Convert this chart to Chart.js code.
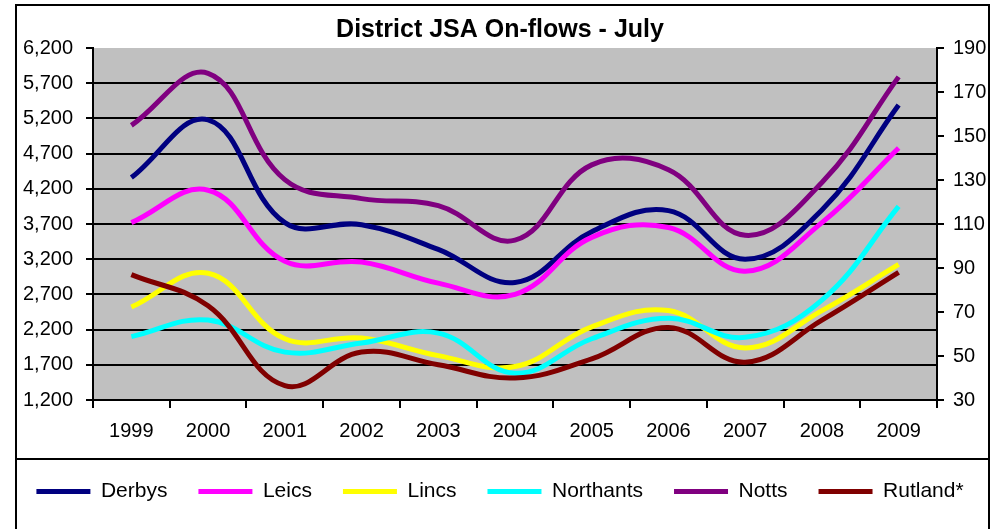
<!DOCTYPE html>
<html>
<head>
<meta charset="utf-8">
<title>District JSA On-flows - July</title>
<script src="https://cdn.jsdelivr.net/npm/chart.js@4.4.1/dist/chart.umd.min.js"></script>
<style>
  body { margin: 0; background: #fff; }
  canvas { display: block; }
</style>
</head>
<body>
<canvas id="chart" width="1000" height="529"></canvas>
<script>
// Data
const years = ["1999", "2000", "2001", "2002", "2003", "2004", "2005", "2006", "2007", "2008", "2009"];
const derbys = [4360, 5180, 3720, 3690, 3340, 2870, 3590, 3890, 3200, 3900, 5390];
const leics = [3720, 4180, 3170, 3160, 2860, 2700, 3510, 3650, 3030, 3720, 4780];
const lincs = [2520, 3000, 2070, 2080, 1830, 1675, 2240, 2470, 1940, 2470, 3125];
const northants = [2100, 2335, 1880, 2010, 2150, 1580, 2070, 2360, 2090, 2620, 3950];
const notts = [5100, 5840, 4330, 4060, 3960, 3470, 4540, 4470, 3540, 4290, 5790];
const rutland = [87, 72.8, 36.5, 51.8, 46, 40, 48.7, 63, 47.2, 66.3, 88]; // right axis

const FONT = "'Liberation Sans', Arial, sans-serif";

// grey plot area + white page
const background = {
  id: "background",
  beforeDraw(chart) {
    const { ctx, chartArea: a } = chart;
    ctx.save();
    ctx.fillStyle = "#fff";
    ctx.fillRect(0, 0, chart.width, chart.height);
    ctx.fillStyle = "#c0c0c0";
    ctx.fillRect(a.left, a.top, a.right - a.left, a.bottom - a.top);
    ctx.restore();
  },
};

// black frames round the chart and the legend
const frames = {
  id: "frames",
  afterDraw(chart) {
    const { ctx } = chart;
    ctx.save();
    ctx.strokeStyle = "#000";
    ctx.lineWidth = 2;
    ctx.strokeRect(16, 5, 973, 454);
    ctx.strokeRect(16, 459, 973, 90);
    ctx.restore();
  },
};

function makeSet(label, data, color, axis, order) {
  return {
    label,
    data,
    yAxisID: axis,
    borderColor: color,
    backgroundColor: color,
    borderWidth: 5,
    pointRadius: 0,
    tension: 0.4,
    fill: false,
    order,
  };
}

new Chart(document.getElementById("chart"), {
  type: "line",
  data: {
    labels: years,
    datasets: [
      makeSet("Derbys", derbys, "#000080", "y", 5),
      makeSet("Leics", leics, "#ff00ff", "y", 4),
      makeSet("Lincs", lincs, "#ffff00", "y", 3),
      makeSet("Northants", northants, "#00ffff", "y", 2),
      makeSet("Notts", notts, "#800080", "y", 1),
      makeSet("Rutland*", rutland, "#800000", "y2", 0),
    ],
  },
  options: {
    responsive: false,
    animation: false,
    layout: { padding: { top: 6, left: 0, right: 0, bottom: 17 } },
    plugins: {
      title: {
        display: true,
        text: "District JSA On-flows - July",
        color: "#000",
        font: { family: FONT, size: 25, weight: "bold" },
        padding: { top: 9, bottom: 3 },
      },
      legend: {
        position: "bottom",
        labels: {
          color: "#000",
          font: { family: FONT, size: 21 },
          boxWidth: 54,
          boxHeight: 5,
          padding: 31,
          sort: (a, b) => a.datasetIndex - b.datasetIndex,
          generateLabels(chart) {
            const items = Chart.defaults.plugins.legend.labels.generateLabels(chart);
            items.forEach((item) => {
              item.fillStyle = item.strokeStyle;
              item.strokeStyle = "rgba(0,0,0,0)";
              item.lineWidth = 0;
            });
            return items;
          },
        },
      },
      tooltip: { enabled: false },
    },
    scales: {
      x: {
        offset: true,
        grid: {
          offset: true,
          drawOnChartArea: false,
          tickColor: "#000",
          tickLength: 8,
          lineWidth: 2,
        },
        border: { color: "#000", width: 2 },
        ticks: { color: "#000", font: { family: FONT, size: 20 }, padding: 11, maxRotation: 0 },
        afterFit(scale) {
          scale.height = 50;
        },
      },
      y: {
        position: "left",
        min: 1200,
        max: 6200,
        ticks: { stepSize: 500, color: "#000", font: { family: FONT, size: 20 }, padding: 13 },
        grid: {
          color: (c) => (c.tick && c.tick.value === 6200 ? "rgba(0,0,0,0)" : "#000"),
          tickColor: "#000",
          tickLength: 7,
          lineWidth: 2,
        },
        border: { color: "#000", width: 2 },
        afterFit(scale) {
          scale.width = 93;
        },
      },
      y2: {
        position: "right",
        min: 30,
        max: 190,
        ticks: { stepSize: 20, color: "#000", font: { family: FONT, size: 20 }, padding: 9 },
        grid: { drawOnChartArea: false, tickColor: "#000", tickLength: 7, lineWidth: 2 },
        border: { color: "#000", width: 2 },
        afterFit(scale) {
          scale.width = 63;
        },
      },
    },
  },
  plugins: [background, frames],
});
</script>
</body>
</html>
